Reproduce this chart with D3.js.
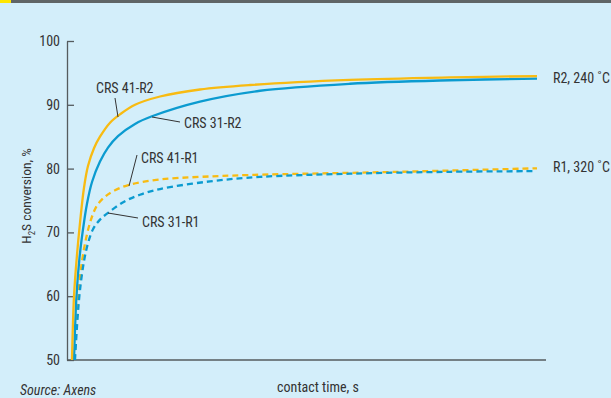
<!DOCTYPE html>
<html>
<head>
<meta charset="utf-8">
<script src="https://cdn.jsdelivr.net/npm/d3@7"></script>
<style>
  html, body { margin: 0; padding: 0; background: #d3eefa; }
  svg { display: block; }
  .lbl { font-family: "Liberation Sans Narrow", "Roboto Condensed", "Liberation Sans", sans-serif; fill: #333; }
</style>
</head>
<body>
<svg id="chart" width="611" height="398"></svg>
<script>
// Contact time in relative units (0–100), H2S conversion in %
const crs41R2 = [[0.85,50],[1.28,60],[1.92,66.5],[2.56,71.5],[3.41,77],[4.26,80.4],[5.54,83.2],[6.82,85],[8.96,87.2],[11.09,88.5],[14.29,90],[19.62,91.3],[28.14,92.4],[38.81,93.1],[60.13,93.9],[81.45,94.3],[100,94.5]];
const crs31R2 = [[1.28,50],[1.81,60],[2.45,66],[3.20,70.5],[4.05,74.5],[5.12,77.9],[6.82,81.1],[8.53,83.3],[10.66,85.1],[14.29,87],[17.91,88.2],[28.14,90.5],[40.94,92.2],[60.13,93.3],[81.45,93.85],[100,94.1]];
const crs41R1 = [[1.39,50],[1.92,57],[2.35,61.5],[2.99,65.5],[3.84,69],[4.90,72],[6.18,74.2],[7.89,75.6],[10.02,76.6],[13.22,77.5],[19.62,78.3],[28.14,78.7],[38.81,79.0],[70.79,79.5],[100,80.05]];
const crs31R1 = [[1.49,50],[2.03,56.5],[2.56,61],[3.41,65.5],[4.26,68.3],[5.33,70.5],[6.82,72],[8.96,73.3],[12.15,74.9],[15.35,75.9],[19.62,76.8],[30.28,78.0],[40.94,78.7],[60.13,79.2],[81.45,79.5],[99.57,79.6]];

const seriesNames = ["CRS 41-R2", "CRS 31-R2", "CRS 41-R1", "CRS 31-R1"];
const yTicks = [50, 60, 70, 80, 90, 100];
const groupLabels = ["R2, 240\u00A0˚C", "R1, 320\u00A0˚C"];

const svg = d3.select("#chart");
const W = 611, H = 398;

// header strip
svg.append("rect").attr("x", 0).attr("y", 0).attr("width", W).attr("height", 3).attr("fill", "#5f6566");
svg.append("rect").attr("x", 0).attr("y", 0).attr("width", 11).attr("height", 3).attr("fill", "#ffe600");

const x = d3.scaleLinear().domain([0, 100]).range([68, 537]);
const y = d3.scaleLinear().domain([50, 100]).range([360, 41]);

const axisColor = "#555b5e";

// y axis with inward ticks
const yAxis = svg.append("g").attr("transform", "translate(67,0)")
  .call(d3.axisLeft(y).tickValues(yTicks).tickSizeInner(-7).tickSizeOuter(0).tickPadding(7));
yAxis.select(".domain").attr("stroke", axisColor).attr("stroke-width", 1.3);
yAxis.selectAll(".tick line").attr("stroke", axisColor).attr("stroke-width", 1.3);
yAxis.selectAll(".tick text")
  .attr("class", "lbl").attr("font-size", 14).attr("fill", "#333");

// x axis baseline
svg.append("line").attr("x1", 67).attr("x2", 546).attr("y1", y(50)).attr("y2", y(50))
  .attr("stroke", axisColor).attr("stroke-width", 1.3);

const line = d3.line().x(d => x(d[0])).y(d => y(d[1])).curve(d3.curveCatmullRom.alpha(0.5));

const yellow = "#f8bb12", blue = "#0b9bd0";
const series = [
  { data: crs41R1, color: yellow, dash: "6,4" },
  { data: crs31R1, color: blue, dash: "6,4" },
  { data: crs31R2, color: blue, dash: null },
  { data: crs41R2, color: yellow, dash: null }
];
series.forEach(s => {
  svg.append("path").datum(s.data).attr("d", line)
    .attr("fill", "none").attr("stroke", s.color).attr("stroke-width", 2.3)
    .attr("stroke-dasharray", s.dash);
});

// series annotations with leader lines
const notes = [
  { text: seriesNames[0], tx: 96, ty: 93, l: [[115, 98], [118, 117]] },
  { text: seriesNames[1], tx: 184, ty: 128, l: [[152, 117], [180, 122]] },
  { text: seriesNames[2], tx: 141, ty: 163, l: [[129, 186], [137, 155]] },
  { text: seriesNames[3], tx: 142, ty: 227, l: [[108, 213], [138, 218]] }
];
notes.forEach(n => {
  svg.append("line").attr("x1", n.l[0][0]).attr("y1", n.l[0][1]).attr("x2", n.l[1][0]).attr("y2", n.l[1][1])
    .attr("stroke", "#333").attr("stroke-width", 1);
  svg.append("text").attr("class", "lbl").attr("x", n.tx).attr("y", n.ty)
    .attr("font-size", 14).text(n.text);
});

// group labels at line ends
svg.append("text").attr("class", "lbl").attr("x", 553).attr("y", 83).attr("font-size", 14).text(groupLabels[0]);
svg.append("text").attr("class", "lbl").attr("x", 553).attr("y", 172).attr("font-size", 14).text(groupLabels[1]);

// axis titles
const yt = svg.append("text").attr("class", "lbl").attr("font-size", 13.5)
  .attr("text-anchor", "middle").attr("transform", "translate(31,196) rotate(-90)");
yt.append("tspan").text("H");
yt.append("tspan").attr("font-size", 9).attr("dy", 4).text("2");
yt.append("tspan").attr("dy", -4).text("S conversion, %");

svg.append("text").attr("class", "lbl").attr("x", 318).attr("y", 392).attr("font-size", 14)
  .attr("text-anchor", "middle").text("contact time, s");

svg.append("text").attr("class", "lbl").attr("x", 20).attr("y", 394.5).attr("font-size", 14)
  .attr("font-style", "italic").text("Source: Axens");
</script>
</body>
</html>
